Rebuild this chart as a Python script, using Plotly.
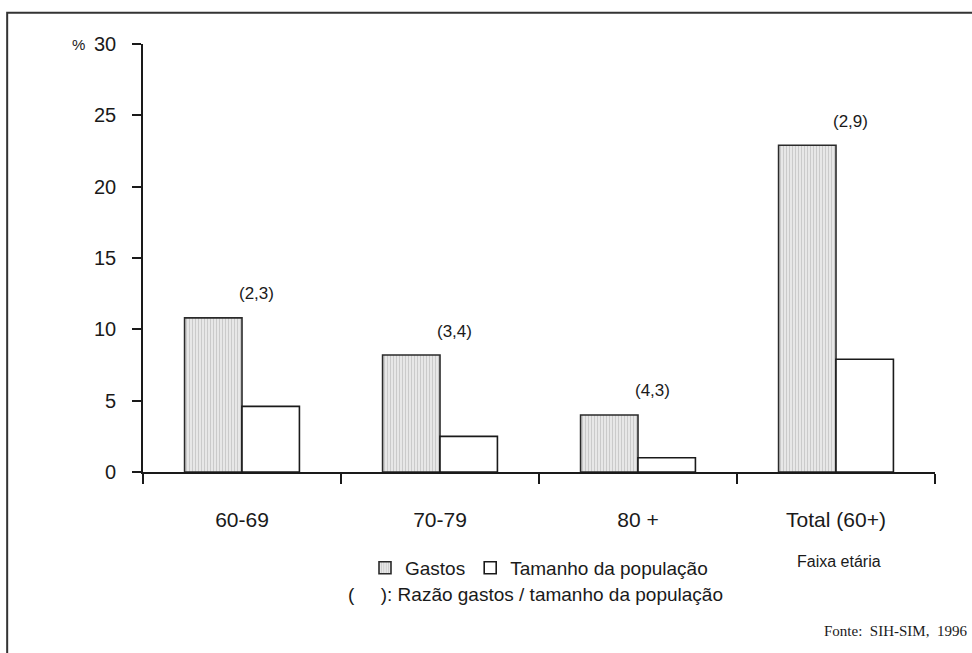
import plotly.graph_objects as go

categories = ["60-69", "70-79", "80 +", "Total (60+)"]
gastos = [10.8, 8.2, 4.0, 22.9]
populacao = [4.6, 2.5, 1.0, 7.9]
razao_labels = ["(2,3)", "(3,4)", "(4,3)", "(2,9)"]
y_ticks = [0, 5, 10, 15, 20, 25, 30]

FONT = "Liberation Sans, Arial, sans-serif"
TXT = "#1a1a1a"

fig = go.Figure()
fig.add_trace(go.Bar(
    x=categories, y=gastos, name="Gastos",
    marker=dict(color="#e6e6e6",
                line=dict(color="#2a2a2a", width=1.6),
                pattern=dict(shape="|", fgcolor="#a8a8a8", bgcolor="#ececec",
                             size=3, solidity=0.45)),
))
fig.add_trace(go.Bar(
    x=categories, y=populacao, name="Tamanho da população",
    marker=dict(color="white", line=dict(color="#1a1a1a", width=1.6)),
))

for cat, val, lab in zip(categories, gastos, razao_labels):
    fig.add_annotation(x=cat, y=val, text=lab, showarrow=False,
                       xshift=14, yshift=24, yanchor="middle",
                       font=dict(family=FONT, size=17, color=TXT))

fig.add_annotation(xref="paper", yref="paper", x=-0.082, y=1.0, text="%",
                   showarrow=False, xanchor="center", yanchor="middle",
                   font=dict(family=FONT, size=15, color=TXT))
fig.add_annotation(xref="paper", yref="paper", x=0.496, y=-0.287,
                   text="(     ): Razão gastos / tamanho da população",
                   showarrow=False, xanchor="center", yanchor="middle",
                   font=dict(family=FONT, size=19, color=TXT))
fig.add_annotation(xref="paper", yref="paper", x=0.879, y=-0.208,
                   text="Faixa etária", showarrow=False,
                   xanchor="center", yanchor="middle",
                   font=dict(family=FONT, size=16, color=TXT))
fig.add_annotation(xref="paper", yref="paper", x=1.043, y=-0.371,
                   text="Fonte:  SIH-SIM,  1996", showarrow=False,
                   xanchor="right", yanchor="middle",
                   font=dict(family="Liberation Serif, Times New Roman, serif",
                             size=15, color=TXT))

# outer frame (top and left edges visible)
fig.add_shape(type="rect", xref="paper", yref="paper",
              x0=-0.1715, x1=1.2, y0=-0.6, y1=1.073,
              line=dict(color="#333333", width=2), layer="below")

fig.update_layout(
    width=972, height=653,
    margin=dict(l=143, r=37, t=44, b=181),
    plot_bgcolor="white", paper_bgcolor="white",
    barmode="group", bargap=0.42, bargroupgap=0.0,
    font=dict(family=FONT, color=TXT),
    showlegend=True,
    legend=dict(orientation="h", x=0.5, xanchor="center", y=-0.224,
                yanchor="middle", font=dict(family=FONT, size=19, color=TXT),
                bgcolor="rgba(0,0,0,0)", itemwidth=30),
    xaxis=dict(showline=True, linecolor="#1a1a1a", linewidth=1.6,
               ticks="outside", ticklen=10, tickwidth=1.6, tickcolor="#1a1a1a",
               tickson="boundaries", showgrid=False, zeroline=False,
               tickfont=dict(family=FONT, size=21, color=TXT),
               ticklabelstandoff=28),
    yaxis=dict(range=[0, 30], tickvals=y_ticks, showline=True,
               linecolor="#1a1a1a", linewidth=1.6, ticks="outside", ticklen=9,
               tickwidth=1.6, tickcolor="#1a1a1a", showgrid=False,
               zeroline=False, tickfont=dict(family=FONT, size=20, color=TXT),
               ticklabelstandoff=12),
)

fig.write_html("out.html", config={"displayModeBar": False},
               post_script="document.body.style.margin='0';document.body.style.overflow='hidden';")
